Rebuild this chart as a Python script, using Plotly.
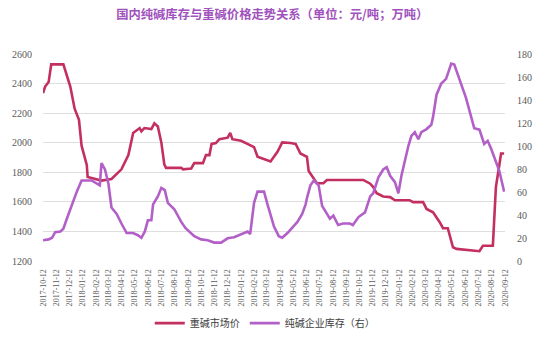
import plotly.graph_objects as go

# 重碱市场价（元/吨）
price_dates = [
    "2017-10-12", "2017-10-17", "2017-10-25", "2017-10-31", "2017-11-28", "2017-12-14",
    "2017-12-24", "2018-01-03", "2018-01-09", "2018-01-21", "2018-01-23", "2018-02-24",
    "2018-03-19", "2018-04-11", "2018-04-27", "2018-05-08", "2018-05-23", "2018-05-27",
    "2018-06-03", "2018-06-19", "2018-06-26", "2018-07-04", "2018-07-12", "2018-07-19",
    "2018-07-23", "2018-08-27", "2018-08-31", "2018-09-19", "2018-09-26", "2018-10-16",
    "2018-10-23", "2018-10-31", "2018-11-05", "2018-11-15", "2018-11-23", "2018-12-12",
    "2018-12-18", "2018-12-23", "2019-01-12", "2019-01-27", "2019-02-11", "2019-02-19",
    "2019-03-14", "2019-03-21", "2019-04-06", "2019-04-17", "2019-05-06", "2019-05-18",
    "2019-05-29", "2019-06-13", "2019-06-17", "2019-06-25", "2019-07-06", "2019-07-21",
    "2019-07-29", "2019-10-21", "2019-11-06", "2019-11-13", "2019-11-21", "2019-12-06",
    "2019-12-22", "2020-01-02", "2020-02-05", "2020-02-13", "2020-03-07", "2020-03-15",
    "2020-03-30", "2020-04-14", "2020-04-22", "2020-05-03", "2020-05-15", "2020-05-23",
    "2020-06-22", "2020-07-15", "2020-07-23", "2020-08-15", "2020-08-22", "2020-09-03",
    "2020-09-10",
]
price_values = [
    2335, 2380, 2410, 2530, 2530, 2380,
    2230, 2155, 1980, 1850, 1768, 1744,
    1755, 1820, 1916, 2066, 2099, 2077,
    2099, 2092, 2131, 2110, 2002, 1852,
    1830, 1830, 1820, 1826, 1862, 1862,
    1916, 1916, 1992, 1998, 2024, 2034,
    2066, 2024, 2013, 1992, 1970, 1905,
    1884, 1873, 1938, 2002, 1998, 1992,
    1927, 1905, 1808, 1776, 1726, 1726,
    1748, 1748, 1723, 1700, 1658, 1636,
    1632, 1611, 1611, 1598, 1598, 1552,
    1529, 1464, 1422, 1422, 1293, 1282,
    1271, 1266, 1303, 1303, 1700, 1927,
    1927,
]

# 纯碱企业库存（万吨，右轴）
stock_dates = [
    "2017-10-12", "2017-10-25", "2017-11-02", "2017-11-09", "2017-11-21", "2017-11-28",
    "2017-12-06", "2017-12-14", "2017-12-21", "2017-12-29", "2018-01-09", "2018-02-01",
    "2018-02-20", "2018-02-24", "2018-03-04", "2018-03-12", "2018-03-19", "2018-03-31",
    "2018-04-11", "2018-04-23", "2018-05-08", "2018-05-19", "2018-05-27", "2018-06-04",
    "2018-06-11", "2018-06-19", "2018-06-23", "2018-07-04", "2018-07-12", "2018-07-20",
    "2018-07-27", "2018-08-11", "2018-08-27", "2018-09-06", "2018-09-26", "2018-10-12",
    "2018-10-27", "2018-11-11", "2018-11-27", "2018-12-04", "2018-12-12", "2018-12-27",
    "2019-01-12", "2019-01-27", "2019-02-02", "2019-02-11", "2019-02-19", "2019-03-06",
    "2019-03-14", "2019-03-21", "2019-03-29", "2019-04-09", "2019-04-17", "2019-04-29",
    "2019-05-22", "2019-06-02", "2019-06-10", "2019-06-13", "2019-06-21", "2019-06-29",
    "2019-07-10", "2019-07-18", "2019-07-29", "2019-08-05", "2019-08-13", "2019-08-24",
    "2019-09-04", "2019-09-20", "2019-09-27", "2019-10-10", "2019-10-25", "2019-11-06",
    "2019-11-13", "2019-11-25", "2019-12-06", "2019-12-14", "2019-12-22", "2020-01-02",
    "2020-01-10", "2020-01-17", "2020-02-02", "2020-02-09", "2020-02-17", "2020-02-25",
    "2020-03-03", "2020-03-15", "2020-03-26", "2020-03-30", "2020-04-07", "2020-04-18",
    "2020-04-29", "2020-05-07", "2020-05-11", "2020-05-18", "2020-05-30", "2020-06-14",
    "2020-07-03", "2020-07-15", "2020-07-26", "2020-08-03", "2020-08-11", "2020-08-30",
    "2020-09-10",
]
stock_values = [
    18.0, 18.8, 20.2, 25.1, 25.7, 28.0,
    36.7, 45.0, 50.6, 60.3, 70.0, 70.0,
    65.8, 85.2, 79.6, 67.2, 46.5, 40.9,
    32.6, 24.3, 24.3, 22.4, 20.2, 25.7,
    35.4, 35.4, 49.2, 56.2, 63.6, 61.6,
    50.6, 45.0, 34.0, 28.5, 21.6, 18.8,
    18.0, 16.0, 16.0, 17.4, 19.7, 20.7,
    23.0, 25.7, 23.5, 50.6, 60.3, 60.3,
    49.2, 40.0, 30.0, 21.6, 20.2, 24.3,
    34.0, 40.9, 49.2, 54.7, 65.8, 70.0,
    65.8, 47.9, 40.9, 36.7, 39.5, 31.3,
    32.6, 32.6, 31.3, 38.2, 42.3, 56.2,
    58.9, 72.8, 79.6, 81.5, 74.1, 68.6,
    58.9, 74.1, 100.0, 108.7, 112.0, 105.9,
    112.0, 114.7, 118.4, 125.3, 144.6, 154.3,
    158.4, 167.3, 171.7, 170.9, 158.4, 141.8,
    115.5, 114.2, 101.8, 104.5, 97.6, 78.2,
    60.3,
]

month_ticks = [
    "2017-10-12", "2017-11-12", "2017-12-12", "2018-01-12", "2018-02-12", "2018-03-12",
    "2018-04-12", "2018-05-12", "2018-06-12", "2018-07-12", "2018-08-12", "2018-09-12",
    "2018-10-12", "2018-11-12", "2018-12-12", "2019-01-12", "2019-02-12", "2019-03-12",
    "2019-04-12", "2019-05-12", "2019-06-12", "2019-07-12", "2019-08-12", "2019-09-12",
    "2019-10-12", "2019-11-12", "2019-12-12", "2020-01-12", "2020-02-12", "2020-03-12",
    "2020-04-12", "2020-05-12", "2020-06-12", "2020-07-12", "2020-08-12", "2020-09-12",
]

RED = "#c3305f"
PURPLE = "#b260c8"
TICK_FONT = dict(family="Liberation Serif, Times New Roman, serif", size=10, color="#595959")
CJK = "Noto Sans CJK SC, sans-serif"

fig = go.Figure()
fig.add_trace(go.Scatter(
    x=price_dates, y=price_values, name="重碱市场价", mode="lines",
    line=dict(color=RED, width=2.6), yaxis="y",
))
fig.add_trace(go.Scatter(
    x=stock_dates, y=stock_values, name="纯碱企业库存（右）", mode="lines",
    line=dict(color=PURPLE, width=2.6), yaxis="y2",
))

fig.update_layout(
    width=550, height=350,
    margin=dict(l=41, r=45, t=54, b=79),
    paper_bgcolor="white", plot_bgcolor="white",
    title=dict(
        text="<b>国内纯碱库存与重碱价格走势关系（单位：元/吨；万吨）</b>",
        x=0.495, xanchor="center", y=0.957, yanchor="middle",
        font=dict(family=CJK, size=12.3, color="#a052bd"),
    ),
    xaxis=dict(
        type="date",
        range=["2017-10-12", "2020-09-12"],
        tickmode="array", tickvals=month_ticks, ticktext=month_ticks,
        tickangle=-90, tickfont=dict(family="Liberation Serif, serif", size=8, color="#595959"),
        showgrid=False, zeroline=False, showline=False,
        ticks="outside", ticklen=4, tickcolor="rgba(0,0,0,0)",
    ),
    yaxis=dict(
        range=[1200, 2600], tickvals=[1200, 1400, 1600, 1800, 2000, 2200, 2400, 2600],
        tickfont=TICK_FONT, showgrid=True, gridcolor="#dedede", gridwidth=1.3,
        zeroline=False, showline=False,
        ticks="outside", ticklen=8, tickcolor="rgba(0,0,0,0)",
    ),
    yaxis2=dict(
        range=[0, 180], tickvals=list(range(0, 181, 20)), overlaying="y", side="right",
        tickfont=TICK_FONT, showgrid=False, zeroline=False, showline=False,
        ticks="outside", ticklen=9, tickcolor="rgba(0,0,0,0)",
    ),
    showlegend=True,
    legend=dict(
        orientation="h", x=0.48, xanchor="center", y=-0.30, yanchor="middle",
        font=dict(family=CJK, size=10, color="#404040"),
        itemwidth=30, tracegroupgap=0,
    ),
)

fig.write_html("out.html")
